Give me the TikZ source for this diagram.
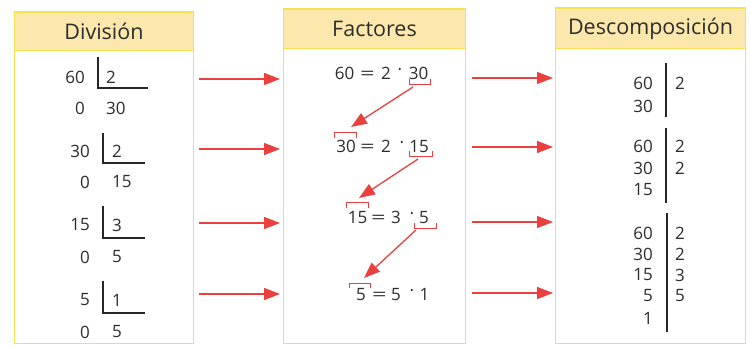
\documentclass[tikz,border=0pt]{standalone}
\usepackage{fontspec}
\setmainfont{Open Sans}
\usetikzlibrary{arrows.meta}
\definecolor{boxyellow}{RGB}{244,226,80}
\definecolor{headfill}{RGB}{252,232,172}
\definecolor{arrowred}{RGB}{234,64,64}
\definecolor{ink}{RGB}{45,45,45}
\newcommand{\eqsign}{\scalebox{1.5}[1]{=}}
\begin{document}
\begin{tikzpicture}[x=1pt,y=-1pt,
  head/.style={draw=boxyellow, fill=headfill, line width=1pt, anchor=north west, inner sep=0pt,
    font=\fontsize{21.5}{22}\selectfont, text=ink},
  frame/.style={draw=boxyellow, line width=1pt},
  dnum/.style={font=\fontsize{17}{17}\selectfont, text=ink, inner sep=0pt},
  galera/.style={draw=black!85, line width=1.1pt},
  link/.style={draw=arrowred, line width=1.3pt, -{Triangle[length=16pt,width=12pt]}},
  brk/.style={draw=arrowred, line width=1pt},
]
\useasboundingbox (0,0) rectangle (751,347);
\fill[white] (0,0) rectangle (751,347);

% ---------- panels ----------
\draw[frame] (14,12) rectangle (193,343);
\draw[frame] (283,9) rectangle (465,343);
\draw[frame] (555,8) rectangle (745,343);
\node[head, minimum width=179pt, minimum height=38pt] (h1) at (14,12) {División};
\node[head, minimum width=182pt, minimum height=39pt] (h2) at (283,9) {Factores};
\node[head, minimum width=190pt, minimum height=40pt] (h3) at (555,8) {Descomposición};

% ---------- División ----------
\node[dnum, anchor=east] (d1a) at (85,77) {60};
\node[dnum, anchor=west] (d1b) at (106,77) {2};
\node[dnum, anchor=east] (d1c) at (85,108) {0};
\node[dnum, anchor=west] (d1d) at (106,108) {30};
\draw[galera] (98,57) -- (98,88) -- (148,88);

\node[dnum, anchor=east] (d2a) at (90,151) {30};
\node[dnum, anchor=west] (d2b) at (112,151) {2};
\node[dnum, anchor=east] (d2c) at (90,182) {0};
\node[dnum, anchor=west] (d2d) at (112,182) {15};
\draw[galera] (103,133) -- (103,163) -- (145,163);

\node[dnum, anchor=east] (d3a) at (90,225) {15};
\node[dnum, anchor=west] (d3b) at (112,225) {3};
\node[dnum, anchor=east] (d3c) at (90,257) {0};
\node[dnum, anchor=west] (d3d) at (112,257) {5};
\draw[galera] (103,206) -- (103,238) -- (145,238);

\node[dnum, anchor=east] (d4a) at (90,300) {5};
\node[dnum, anchor=west] (d4b) at (112,300) {1};
\node[dnum, anchor=east] (d4c) at (90,332) {0};
\node[dnum, anchor=west] (d4d) at (112,332) {5};
\draw[galera] (103,281) -- (103,313) -- (145,313);

% ---------- Factores ----------
\node[dnum, anchor=base] (f1a) at (344.5,80) {60};
\node[dnum, anchor=base] (f1b) at (367.5,80) {\eqsign};
\node[dnum, anchor=base] (f1c) at (386,80) {2};
\node[dnum, anchor=base] (f1d) at (400,76) {·};
\node[dnum, anchor=base] (f1e) at (418.5,80) {30};

\node[dnum, anchor=base] (f2a) at (346,153) {30};
\node[dnum, anchor=base] (f2b) at (367.5,153) {\eqsign};
\node[dnum, anchor=base] (f2c) at (386,153) {2};
\node[dnum, anchor=base] (f2d) at (402,149) {·};
\node[dnum, anchor=base] (f2e) at (419,153) {15};

\node[dnum, anchor=base] (f3a) at (357.5,223) {15};
\node[dnum, anchor=base] (f3b) at (378.5,223) {\eqsign};
\node[dnum, anchor=base] (f3c) at (396,223) {3};
\node[dnum, anchor=base] (f3d) at (412,219) {·};
\node[dnum, anchor=base] (f3e) at (424,223) {5};

\node[dnum, anchor=base] (f4a) at (361,300) {5};
\node[dnum, anchor=base] (f4b) at (379.5,300) {\eqsign};
\node[dnum, anchor=base] (f4c) at (396,300) {5};
\node[dnum, anchor=base] (f4d) at (412,296) {·};
\node[dnum, anchor=base] (f4e) at (424.5,300) {1};

% brackets
\draw[brk] (409,79) -- (409,85) -- (430,85) -- (430,79);
\draw[brk] (334,138) -- (334,133) -- (356,133) -- (356,138);
\draw[brk] (409,151) -- (409,157) -- (432,157) -- (432,151);
\draw[brk] (346,208) -- (346,203) -- (368,203) -- (368,208);
\draw[brk] (414,223) -- (414,228) -- (436,228) -- (436,223);
\draw[brk] (349,288) -- (349,283) -- (370,283) -- (370,288);

\coordinate (u1) at (413,87);  \coordinate (o2) at (351,127);
\coordinate (u2) at (418,159); \coordinate (o3) at (359,198);
\coordinate (u3) at (416,230); \coordinate (o4) at (364,278);
\draw[link] (u1) -- (o2);
\draw[link] (u2) -- (o3);
\draw[link] (u3) -- (o4);

% ---------- Descomposición ----------
\node[dnum, anchor=east] (g1a) at (653,83) {60};
\node[dnum, anchor=east] (g1b) at (653,106) {30};
\node[dnum, anchor=west] (g1c) at (675,83) {2};
\draw[galera] (666,63) -- (666,117);

\node[dnum, anchor=east] (g2a) at (653,146) {60};
\node[dnum, anchor=east] (g2b) at (653,168) {30};
\node[dnum, anchor=east] (g2c) at (653,190) {15};
\node[dnum, anchor=west] (g2d) at (675,146) {2};
\node[dnum, anchor=west] (g2e) at (675,168) {2};
\draw[galera] (666,128) -- (666,203);

\node[dnum, anchor=east] (g3a) at (653,233) {60};
\node[dnum, anchor=east] (g3b) at (653,254) {30};
\node[dnum, anchor=east] (g3c) at (653,275) {15};
\node[dnum, anchor=east] (g3d) at (653,296) {5};
\node[dnum, anchor=east] (g3e) at (653,318) {1};
\node[dnum, anchor=west] (g3f) at (675,233) {2};
\node[dnum, anchor=west] (g3g) at (675,254) {2};
\node[dnum, anchor=west] (g3h) at (675,275) {3};
\node[dnum, anchor=west] (g3i) at (675,296) {5};
\draw[galera] (667,213) -- (667,332);

% ---------- horizontal arrows ----------
\coordinate (l1s) at (199,79);  \coordinate (l1e) at (280,79);
\coordinate (l2s) at (199,149); \coordinate (l2e) at (280,149);
\coordinate (l3s) at (199,223); \coordinate (l3e) at (280,223);
\coordinate (l4s) at (199,294); \coordinate (l4e) at (280,294);
\draw[link] (l1s) -- (l1e);
\draw[link] (l2s) -- (l2e);
\draw[link] (l3s) -- (l3e);
\draw[link] (l4s) -- (l4e);

\coordinate (r1s) at (472,78);  \coordinate (r1e) at (553,78);
\coordinate (r2s) at (472,147); \coordinate (r2e) at (553,147);
\coordinate (r3s) at (472,222); \coordinate (r3e) at (553,222);
\coordinate (r4s) at (472,293); \coordinate (r4e) at (553,293);
\draw[link] (r1s) -- (r1e);
\draw[link] (r2s) -- (r2e);
\draw[link] (r3s) -- (r3e);
\draw[link] (r4s) -- (r4e);
\end{tikzpicture}
\end{document}
